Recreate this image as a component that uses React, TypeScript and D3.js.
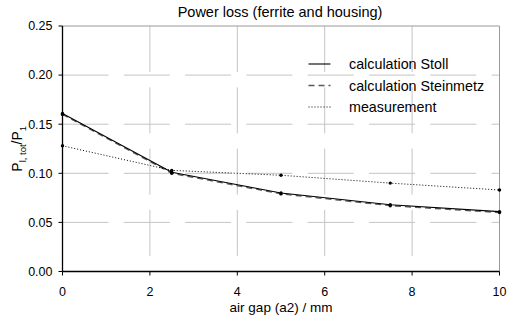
import { line, scaleLinear } from 'd3';

// Power loss vs air gap, three series.
const gaps = [0, 2.5, 5, 7.5, 10];
const stoll = [0.161, 0.101, 0.08, 0.068, 0.061];
const steinmetz = [0.16, 0.1, 0.079, 0.067, 0.06];
const measurement = [0.128, 0.103, 0.098, 0.09, 0.083];
const xTicks = [0, 2, 4, 6, 8, 10];
const yTicks = [0, 0.05, 0.1, 0.15, 0.2, 0.25];

const W = 507;
const H = 323;
const m = { top: 26, right: 7.5, bottom: 51.5, left: 62.5 };
const FONT = '"Liberation Sans", Arial, sans-serif';

interface Series {
  name: string;
  values: number[];
  stroke: string;
  width: number;
  dash?: string;
}

const series: Series[] = [
  { name: 'calculation Steinmetz', values: steinmetz, stroke: '#5a5a5a', width: 1.3, dash: '6,4' },
  { name: 'measurement', values: measurement, stroke: '#000', width: 1, dash: '1,2' },
  { name: 'calculation Stoll', values: stoll, stroke: '#000', width: 1.1 },
];
const legendOrder = ['calculation Stoll', 'calculation Steinmetz', 'measurement'];

export default function App() {
  const w = W - m.left - m.right;
  const h = H - m.top - m.bottom;
  const xs = scaleLinear().domain([0, 10]).range([0, w]);
  const ys = scaleLinear().domain([0, 0.25]).range([h, 0]);
  const ln = line<number>().x((_d, i) => xs(gaps[i]!)).y((d) => ys(d));

  return (
    <svg width={W} height={H} style={{ position: 'absolute', left: 0, top: 0, background: '#fff' }} fontFamily={FONT}>
      <text x={m.left + w / 2 - 1} y={17} textAnchor="middle" fontSize={14.5} fill="#000">
        Power loss (ferrite and housing)
      </text>
      <g transform={`translate(${m.left},${m.top})`}>
        {/* grid */}
        {yTicks.slice(1, -1).map((t) => (
          <line key={`gy${t}`} x1={0} x2={w} y1={ys(t)} y2={ys(t)} stroke="#c4c4c4" strokeDasharray="46,15.3" />
        ))}
        {xTicks.slice(1, -1).map((t) => (
          <line key={`gx${t}`} x1={xs(t)} x2={xs(t)} y1={0} y2={h} stroke="#c4c4c4" strokeDasharray="46,15.3" />
        ))}
        {/* frame */}
        <line x1={0} x2={w} y1={0} y2={0} stroke="#999" />
        <line x1={w} x2={w} y1={0} y2={h} stroke="#999" />
        <line x1={0} x2={0} y1={0} y2={h} stroke="#000" strokeWidth={1.3} />
        <line x1={0} x2={w} y1={h} y2={h} stroke="#000" strokeWidth={1.3} />
        {yTicks.map((t) => (
          <g key={`ty${t}`}>
            <line x1={-4} x2={0} y1={ys(t)} y2={ys(t)} stroke="#000" />
            <text x={-10} y={ys(t)} dy="0.35em" textAnchor="end" fontSize={12.5} fill="#000">
              {t.toFixed(2)}
            </text>
          </g>
        ))}
        {xTicks.map((t) => (
          <g key={`tx${t}`}>
            <line x1={xs(t)} x2={xs(t)} y1={h} y2={h + 4} stroke="#000" />
            <text x={xs(t)} y={h + 24.5} textAnchor="middle" fontSize={12.5} fill="#000">
              {t}
            </text>
          </g>
        ))}
        {/* series */}
        {series.map((s) => (
          <g key={s.name}>
            <path d={ln(s.values) ?? undefined} fill="none" stroke={s.stroke} strokeWidth={s.width} strokeDasharray={s.dash} />
            {s.values.map((v, i) => (
              <circle key={i} cx={xs(gaps[i]!)} cy={ys(v)} r={1.7} fill="#000" />
            ))}
          </g>
        ))}
        {/* legend */}
        {legendOrder.map((name, i) => {
          const s = series.find((d) => d.name === name)!;
          const y = 38 + i * 21.5;
          return (
            <g key={name}>
              <line x1={246} x2={268} y1={y} y2={y} stroke={s.stroke} strokeWidth={s.width} strokeDasharray={s.dash} />
              <text x={286.5} y={y} dy="0.35em" fontSize={14.3} fill="#000">
                {name}
              </text>
            </g>
          );
        })}
      </g>
      <text x={m.left + w / 2} y={311.5} textAnchor="middle" fontSize={13.5} fill="#000">
        air gap (a2) / mm
      </text>
      <text transform={`translate(22,${m.top + h / 2}) rotate(-90)`} textAnchor="middle" fontSize={14} fill="#000">
        P<tspan fontSize={9.5} dy={3.5}>l, tot</tspan>
        <tspan dy={-3.5}>/P</tspan>
        <tspan fontSize={9.5} dy={3.5}>1</tspan>
      </text>
    </svg>
  );
}
